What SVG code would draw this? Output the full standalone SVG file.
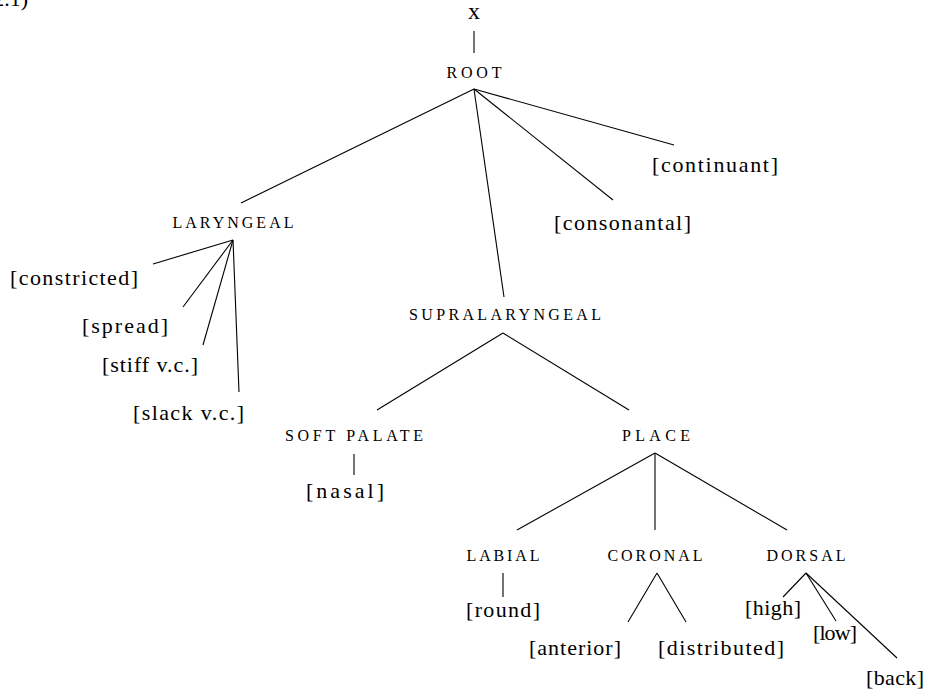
<svg xmlns="http://www.w3.org/2000/svg" width="927" height="690" viewBox="0 0 927 690">
<style>
text{font-family:'Liberation Serif','DejaVu Serif',serif;fill:#000}
.f{font-size:22px}
.sc{font-size:16px;text-anchor:middle}
.x{font-size:24px;text-anchor:middle}
line{stroke:#000;stroke-width:1.1}
</style>
<rect width="927" height="690" fill="#fff"/>
<text class="f" x="28" y="6" text-anchor="end">(2.1)</text>
<g id="connectors">
<line x1="474" y1="31" x2="474" y2="53"/>
<line x1="474" y1="89" x2="241" y2="203"/>
<line x1="474" y1="89" x2="504" y2="297"/>
<line x1="474" y1="89" x2="613" y2="200"/>
<line x1="474" y1="89" x2="674" y2="145"/>
<line x1="233" y1="240" x2="153" y2="264"/>
<line x1="233" y1="240" x2="183" y2="307"/>
<line x1="233" y1="240" x2="203" y2="345"/>
<line x1="233" y1="240" x2="239" y2="392"/>
<line x1="503" y1="333" x2="377" y2="410"/>
<line x1="503" y1="333" x2="629" y2="410"/>
<line x1="354" y1="454" x2="354" y2="475"/>
<line x1="655" y1="453" x2="517" y2="530"/>
<line x1="655" y1="453" x2="655" y2="530"/>
<line x1="655" y1="453" x2="787" y2="530"/>
<line x1="503" y1="573" x2="503" y2="597"/>
<line x1="657" y1="573" x2="628" y2="622"/>
<line x1="657" y1="573" x2="686" y2="622"/>
<line x1="806" y1="573" x2="783" y2="597"/>
<line x1="806" y1="573" x2="836" y2="621"/>
<line x1="806" y1="573" x2="897" y2="658"/>
</g>
<g id="x"><text class="x" x="474" y="19">x</text></g>
<g id="root"><text class="sc" x="474" y="78" textLength="55" lengthAdjust="spacing">ROOT</text></g>
<g id="laryngeal"><text class="sc" x="233" y="228" textLength="121" lengthAdjust="spacing">LARYNGEAL</text></g>
<g id="constricted"><text class="f" x="10" y="285" textLength="128" lengthAdjust="spacing">[constricted]</text></g>
<g id="spread"><text class="f" x="82" y="333" textLength="86" lengthAdjust="spacing">[spread]</text></g>
<g id="stiff"><text class="f" x="102" y="372" textLength="96" lengthAdjust="spacing">[stiff v.c.]</text></g>
<g id="slack"><text class="f" x="133" y="420" textLength="111" lengthAdjust="spacing">[slack v.c.]</text></g>
<g id="consonantal"><text class="f" x="554" y="230" textLength="137" lengthAdjust="spacing">[consonantal]</text></g>
<g id="continuant"><text class="f" x="652" y="172" textLength="126" lengthAdjust="spacing">[continuant]</text></g>
<g id="supralaryngeal"><text class="sc" x="505" y="320" textLength="192" lengthAdjust="spacing">SUPRALARYNGEAL</text></g>
<g id="softpalate"><text class="sc" x="354" y="441" textLength="138" lengthAdjust="spacing">SOFT  PALATE</text></g>
<g id="nasal"><text class="f" x="306" y="498" textLength="78" lengthAdjust="spacing">[nasal]</text></g>
<g id="place"><text class="sc" x="656" y="441" textLength="68" lengthAdjust="spacing">PLACE</text></g>
<g id="labial"><text class="sc" x="503" y="561" textLength="73" lengthAdjust="spacing">LABIAL</text></g>
<g id="round"><text class="f" x="466" y="617" textLength="74" lengthAdjust="spacing">[round]</text></g>
<g id="coronal"><text class="sc" x="655" y="561" textLength="95" lengthAdjust="spacing">CORONAL</text></g>
<g id="anterior"><text class="f" x="529" y="655" textLength="92" lengthAdjust="spacing">[anterior]</text></g>
<g id="distributed"><text class="f" x="658" y="655" textLength="126" lengthAdjust="spacing">[distributed]</text></g>
<g id="dorsal"><text class="sc" x="806" y="561" textLength="79" lengthAdjust="spacing">DORSAL</text></g>
<g id="high"><text class="f" x="745" y="615" textLength="56" lengthAdjust="spacing">[high]</text></g>
<g id="low"><text class="f" x="813" y="640" textLength="44" lengthAdjust="spacing">[low]</text></g>
<g id="back"><text class="f" x="866" y="685" textLength="58" lengthAdjust="spacing">[back]</text></g>
</svg>
